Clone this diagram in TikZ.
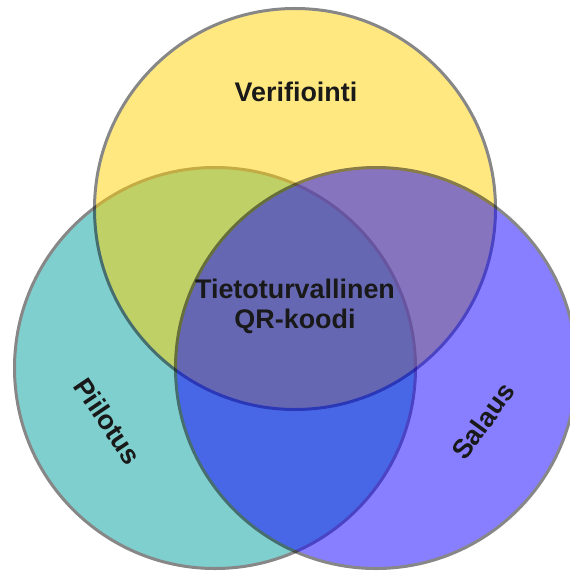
\documentclass[tikz,border=0pt]{standalone}
\usepackage{fontspec}
\setmainfont{Liberation Sans}
\usetikzlibrary{positioning}
\definecolor{verifcol}{RGB}{255,210,0}
\definecolor{piilocol}{RGB}{0,159,159}
\definecolor{salauscol}{RGB}{15,0,255}
\definecolor{reuna}{RGB}{15,15,15}
\tikzset{
  setti/.style={circle,draw=reuna,line width=3bp,minimum size=401bp,inner sep=0pt},
  ryhma/.style={transparency group,opacity=0.5},
  otsikko/.style={font=\fontsize{27}{30}\selectfont\bfseries,text=black!90,align=center}
}

\begin{document}
\begin{tikzpicture}[x=1bp,y=-1bp]
  \useasboundingbox (0,0) rectangle (570,576);
  \clip (0,0) rectangle (570,576);
  % the three sets
  \begin{scope}[ryhma]
    \node[setti,fill=piilocol] (piilotus) at (215,368) {};
  \end{scope}
  \begin{scope}[ryhma]
    \node[setti,fill=verifcol] (verifiointi) at (295,209) {};
  \end{scope}
  \begin{scope}[ryhma]
    \node[setti,fill=salauscol] (salaus) at (376,368) {};
  \end{scope}
  % labels
  \node[otsikko] (verif) at (296,92) {Verifiointi};
  \node[otsikko] (qr) at (295,306) {Tietoturvallinen\\QR-koodi};
  \node[otsikko,rotate=-56] (piilo) at (108,421) {Piilotus};
  \node[otsikko,rotate=54] (sala) at (483,421) {Salaus};
\end{tikzpicture}
\end{document}
